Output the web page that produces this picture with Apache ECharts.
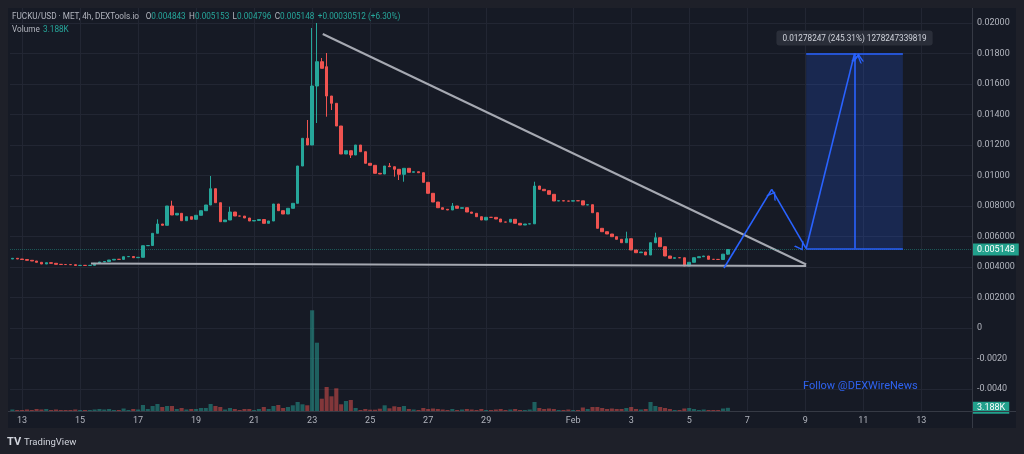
<!DOCTYPE html>
<html><head><meta charset="utf-8">
<script src="https://cdn.jsdelivr.net/npm/echarts@6/dist/echarts.min.js"></script>
<style>html,body{margin:0;padding:0;background:#1e2029;}#c{width:1024px;height:454px;}</style>
</head><body><div id="c"></div>
<script>
// ---- data ----
const slotCount = 199; // 4h slots from Jan 12 16:00 to Feb 14
const dayLabels = ['13','15','17','19','21','23','25','27','29','Feb','3','5','7','9','11','13'];
const dayLabelIndex = [2,14,26,38,50,62,74,86,98,116,128,140,152,164,176,188];
const priceTicks = [-0.004,-0.002,0,0.002,0.004,0.006,0.008,0.010,0.012,0.014,0.016,0.018,0.020];
const opens = [0.004524,0.004570,0.004524,0.004491,0.004439,0.004393,0.004308,0.004196,0.004282,0.004242,
0.004177,0.004164,0.004160,0.004151,0.004098,0.004111,0.004098,0.004111,0.004242,0.004328,
0.004360,0.004459,0.004505,0.004500,0.004675,0.004688,0.004610,0.004636,0.005396,0.005410,
0.006210,0.006819,0.006734,0.008000,0.007410,0.007521,0.007036,0.007298,0.007128,0.007390,
0.007692,0.008065,0.009134,0.008216,0.006970,0.007082,0.007606,0.007344,0.007340,0.007213,
0.007016,0.007049,0.007115,0.006865,0.007016,0.008131,0.007692,0.007475,0.007849,0.008177,
0.010623,0.012439,0.012000,0.015869,0.017462,0.017134,0.015213,0.014734,0.013246,0.011410,
0.011626,0.011344,0.012000,0.011560,0.010800,0.010669,0.010144,0.010098,0.010623,0.010577,
0.010406,0.010078,0.010472,0.010210,0.010249,0.010183,0.009554,0.008833,0.008262,0.007888,
0.007783,0.007737,0.008000,0.007849,0.007888,0.007606,0.007521,0.007298,0.007082,0.007259,
0.007255,0.007147,0.006951,0.006945,0.007128,0.006865,0.006754,0.006819,0.006833,0.009311,
0.009095,0.009003,0.008767,0.008328,0.008347,0.008328,0.008320,0.008347,0.008340,0.008065,
0.008085,0.007560,0.006537,0.006314,0.006164,0.005987,0.005816,0.005593,0.005855,0.005115,
0.004937,0.004983,0.004787,0.005593,0.005921,0.005331,0.004721,0.004570,0.004610,0.004605,
0.004065,0.004308,0.004610,0.004675,0.004721,0.004505,0.004500,0.004491,0.004843];
const closes = [0.004570,0.004524,0.004491,0.004439,0.004393,0.004308,0.004196,0.004282,0.004242,0.004177,
0.004164,0.004160,0.004151,0.004098,0.004111,0.004098,0.004111,0.004242,0.004328,0.004360,
0.004459,0.004505,0.004500,0.004675,0.004688,0.004610,0.004636,0.005396,0.005410,0.006210,
0.006819,0.006734,0.008000,0.007410,0.007521,0.007036,0.007298,0.007128,0.007390,0.007692,
0.008065,0.009134,0.008216,0.006970,0.007082,0.007606,0.007344,0.007340,0.007213,0.007016,
0.007049,0.007115,0.006865,0.007016,0.008131,0.007692,0.007475,0.007849,0.008177,0.010623,
0.012439,0.012000,0.015869,0.017462,0.017029,0.015213,0.014734,0.013246,0.011410,0.011626,
0.011344,0.012000,0.011560,0.010800,0.010669,0.010144,0.010098,0.010623,0.010577,0.010406,
0.010078,0.010472,0.010210,0.010249,0.010183,0.009554,0.008833,0.008262,0.007888,0.007783,
0.007737,0.008000,0.007849,0.007888,0.007606,0.007521,0.007298,0.007082,0.007259,0.007255,
0.007147,0.006951,0.006945,0.007128,0.006865,0.006754,0.006819,0.006833,0.009311,0.009095,
0.009003,0.008767,0.008328,0.008347,0.008328,0.008320,0.008347,0.008340,0.008065,0.008085,
0.007560,0.006537,0.006314,0.006164,0.005987,0.005816,0.005593,0.005855,0.005115,0.004937,
0.004983,0.004787,0.005593,0.005921,0.005331,0.004721,0.004570,0.004610,0.004605,0.004065,
0.004308,0.004610,0.004675,0.004721,0.004505,0.004500,0.004491,0.004843,0.005148];
const highWicks = {30:0.007128,33:0.008347,41:0.009967,45:0.007954,61:0.013639,62:0.019672,63:0.020000,
  64:0.017705,65:0.018033,78:0.010819,91:0.008196,108:0.009593,127:0.006314,133:0.006249,148:0.005153};
const lowWicks = {63:0.013442,65:0.013856,66:0.014295,70:0.011147,79:0.009921,80:0.009705,81:0.009593,148:0.004796};
const volumes = [1.5,1,1,1.5,1,2,1.5,2,1,1.5, 1,1,1,1.5,1,1,1,1.5,2,1.5,
2,1,1,2.5,1,2,1.5,6,2,5, 7,4,5,5,2,3,1.5,2,2,3,
3,7,5,4,1.5,3,2,1,2,2, 1,2,4,2,5,6,3,4,5.7,9,
6.7,5.7,100.7,68.3,12.3,24,14.7,22.7,6.7,10, 11,3,1,2,1.3,1.3,2.3,5.7,2.7,4.7,
4,5,2,1.5,1,3,2,2.5,2,1.5, 1,2,1,1.5,2,1.5,1,2,1,1,
1.5,2,1,1.5,2,1,1,1.5,9,3, 2,2.5,2,1,1,1.5,1,1,3.5,2,
4,4,3,2,2.5,2,2,3,4,2, 1.5,2,9,5,4,3,2,1,1,2.5,
3,2,1,1.5,1,1,1,2.5,3.188];
const lastPrice = 0.005148;
const lastVolume = 3.188;
const resistanceLine = [[64.2,0.019279],[164.2,0.004164]];
const supportLine = [[16.26,0.00423],[164.2,0.004066]];
const projectionPath = [[147.2,0.003934],[157.07,0.009095],[164.2,0.0052107],[174.2,0.0179932]];
const targetBoxX = [164.2,184.2];
const targetBoxY = [0.0052107,0.0179932];
const targetLabel = '0.01278247 (245.31%) 1278247339819';

// ---- build ----
const FONT = 'Roboto';
const GREEN = '#26a69a', RED = '#ef5350', BLUE = '#2962ff';
const GRIDC = '#222633';
const yMin = -0.0054426, yMax = 0.020984;
const slotNames = Array.from({length: slotCount}, (_, i) => String(i));
const labelMap = {}; dayLabelIndex.forEach((s, k) => labelMap[s] = dayLabels[k]);
const candles = opens.map((o, i) => {
  const c = closes[i];
  return [o, c, lowWicks[i] !== undefined ? lowWicks[i] : Math.min(o, c), highWicks[i] !== undefined ? highWicks[i] : Math.max(o, c)];
});
const volData = volumes.map((v, i) => ({value: v, itemStyle: {color: closes[i] >= opens[i] ? 'rgba(38,166,154,0.5)' : 'rgba(239,83,80,0.5)'}}));
function fmtPrice(v) {
  if (Math.abs(v) < 1e-12) return '0';
  if (v < 0) return v.toFixed(4);
  return v >= 0.00999 ? v.toFixed(5) : v.toFixed(6);
}
const chevron = 'path://M0,10L5,0L10,10L8.5,10L5,3L1.5,10Z';
const segs = [];
for (let k = 0; k < projectionPath.length - 1; k++) segs.push([{coord: projectionPath[k]}, {coord: projectionPath[k + 1]}]);
segs.push([{coord: [projectionPath[3][0], targetBoxY[0]]}, {coord: [projectionPath[3][0], targetBoxY[1]]}]);
segs.push([{coord: [targetBoxX[0], targetBoxY[1]], symbol: 'none'}, {coord: [targetBoxX[1], targetBoxY[1]], symbol: 'none'}]);
segs.push([{coord: [targetBoxX[0], targetBoxY[0]], symbol: 'none'}, {coord: [targetBoxX[1], targetBoxY[0]], symbol: 'none'}]);
const tagLabel = (txt) => ({show: true, position: 'end', distance: 1, formatter: txt, color: '#ffffff', backgroundColor: '#22a08c',
  fontSize: 9, fontFamily: FONT, padding: [2, 4, 1, 4]});

const chart = echarts.init(document.getElementById('c'));
chart.setOption({
  animation: false,
  backgroundColor: '#1e2029',
  textStyle: {fontFamily: FONT},
  grid: [
    {left: 10, right: 52, top: 8, bottom: 43, outerBoundsMode: 'none'},
    {left: 10, right: 52, bottom: 43, height: 120, outerBoundsMode: 'none'}
  ],
  xAxis: [
    {type: 'category', gridIndex: 0, data: slotNames, boundaryGap: true,
     axisLine: {show: false, onZero: false}, axisTick: {show: false},
     axisLabel: {interval: (idx) => labelMap[idx] !== undefined, formatter: (v, idx) => labelMap[idx] || '',
       color: '#b2b5be', fontSize: 9, fontFamily: FONT, margin: 5},
     splitLine: {show: false}},
    {type: 'value', gridIndex: 0, min: -0.5, max: slotCount - 0.5, position: 'bottom',
     axisLine: {show: false, onZero: false}, axisTick: {show: false, customValues: dayLabelIndex},
     axisLabel: {show: false, customValues: dayLabelIndex},
     splitLine: {show: true, lineStyle: {color: GRIDC, width: 1}}},
    {type: 'category', gridIndex: 1, data: slotNames, show: false, axisLine: {onZero: false}}
  ],
  yAxis: [
    {type: 'value', gridIndex: 0, position: 'right', min: yMin, max: yMax,
     axisLine: {show: false}, axisTick: {show: false, customValues: priceTicks},
     axisLabel: {customValues: priceTicks, formatter: fmtPrice, color: '#b2b5be', fontSize: 9, fontFamily: FONT, margin: 5},
     splitLine: {show: true, lineStyle: {color: GRIDC, width: 1}}},
    {type: 'value', gridIndex: 1, min: 0, max: 120, show: false}
  ],
  graphic: [
    {type: 'rect', z: -10, silent: true, shape: {x: 8, y: 8, width: 1008, height: 420}, style: {fill: '#161a25'}},
    {type: 'line', z: 50, silent: true, shape: {x1: 972.5, y1: 8, x2: 972.5, y2: 428}, style: {stroke: '#363a45', lineWidth: 1}},
    {type: 'line', z: 50, silent: true, shape: {x1: 8, y1: 411.5, x2: 1016, y2: 411.5}, style: {stroke: '#363a45', lineWidth: 1}},
    {type: 'text', z: 60, left: 12, top: 11, style: {
      text: '{t|FUCKU/USD · MET, 4h, DEXTools.io}  {k|O}{v|0.004843} {k|H}{v|0.005153} {k|L}{v|0.004796} {k|C}{v|0.005148} {v|+0.00030512 (+6.30%)}',
      rich: {t: {fill: '#b2b5be', fontSize: 8.2, fontFamily: FONT}, k: {fill: '#b2b5be', fontSize: 8.2, fontFamily: FONT}, v: {fill: '#26a69a', fontSize: 8.2, fontFamily: FONT}}}},
    {type: 'text', z: 60, left: 12, top: 24, style: {
      text: '{t|Volume} {v|3.188K}',
      rich: {t: {fill: '#b2b5be', fontSize: 8.2, fontFamily: FONT}, v: {fill: '#26a69a', fontSize: 8.2, fontFamily: FONT}}}},
    {type: 'text', z: 60, left: 803, top: 381, style: {text: 'Follow @DEXWireNews', fill: '#2f63f0', fontSize: 11, fontFamily: FONT}},
    {type: 'text', z: 60, left: 7, top: 437, style: {text: 'TV', fill: '#d1d4dc', fontSize: 11, fontWeight: 'bold', fontFamily: FONT}},
    {type: 'text', z: 60, left: 24, top: 438, style: {text: 'TradingView', fill: '#d1d4dc', fontSize: 9.5, fontFamily: FONT}}
  ],
  series: [
    {type: 'bar', name: 'Volume', xAxisIndex: 2, yAxisIndex: 1, data: volData, barCategoryGap: '15%', silent: true,
     markLine: {silent: true, symbol: 'none', data: [{yAxis: lastVolume}], lineStyle: {color: 'rgba(0,0,0,0)', width: 0},
       label: tagLabel('3.188K')}},
    {type: 'candlestick', name: 'FUCKU/USD', xAxisIndex: 0, yAxisIndex: 0, data: candles, barWidth: 3, silent: true,
     itemStyle: {color: GREEN, color0: RED, borderColor: GREEN, borderColor0: RED, borderWidth: 1}},
    {type: 'line', name: 'Resistance', xAxisIndex: 1, yAxisIndex: 0, data: resistanceLine, showSymbol: false, silent: true,
     lineStyle: {color: '#a6a9b2', width: 2}},
    {type: 'line', name: 'Support', xAxisIndex: 1, yAxisIndex: 0, data: supportLine, showSymbol: false, silent: true,
     lineStyle: {color: '#a6a9b2', width: 2}},
    {type: 'line', name: 'Last price', xAxisIndex: 1, yAxisIndex: 0, data: [[-0.5, lastPrice], [slotCount - 0.5, lastPrice]],
     showSymbol: false, silent: true, lineStyle: {color: 'rgba(38,166,154,0.45)', type: 'dotted', width: 1},
     endLabel: {show: true, distance: 1, formatter: fmtPrice(lastPrice), color: '#ffffff', backgroundColor: '#22a08c',
       fontSize: 9, fontFamily: FONT, padding: [2, 4, 1, 4]}},
    {type: 'line', name: 'Projection', xAxisIndex: 1, yAxisIndex: 0, data: projectionPath, showSymbol: false, silent: true,
     lineStyle: {width: 0, opacity: 0},
     markArea: {silent: true, itemStyle: {color: 'rgba(41,98,255,0.2)'},
       data: [[{coord: [targetBoxX[0], targetBoxY[0]]}, {coord: [targetBoxX[1], targetBoxY[1]]}]]},
     markLine: {silent: true, symbol: ['none', chevron], symbolSize: [11, 8], symbolOffset: [0, 4],
       lineStyle: {color: BLUE, width: 1.6, type: 'solid'}, label: {show: false}, data: segs},
     markPoint: {silent: true, symbol: 'rect', symbolSize: 0,
       data: [{coord: [projectionPath[3][0], targetBoxY[1]]}],
       label: {show: true, position: 'top', distance: 8, formatter: targetLabel, color: '#d1d4dc', backgroundColor: '#2a2e39',
         borderRadius: 3, padding: [4, 6, 3, 6], fontSize: 8.2, fontFamily: FONT}}}
  ]
});
</script>
</body></html>
